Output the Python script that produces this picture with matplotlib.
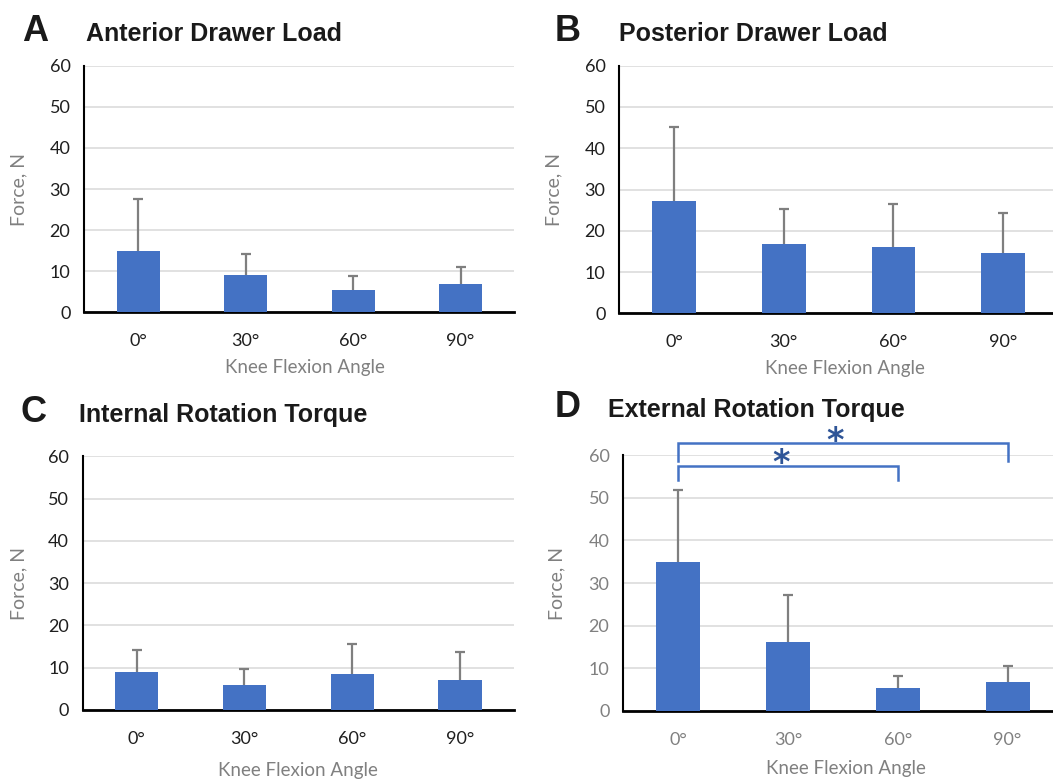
import matplotlib
matplotlib.use("Agg")
import matplotlib.pyplot as plt
import numpy as np

W, H = 1053, 779

categories = ["0°", "30°", "60°", "90°"]

anterior_mean = [14.9, 9.0, 5.5, 6.9]
anterior_err = [12.7, 5.3, 3.4, 4.2]

posterior_mean = [27.1, 16.7, 16.1, 14.5]
posterior_err = [18.1, 8.6, 10.5, 9.9]

internal_mean = [9.0, 5.8, 8.4, 7.0]
internal_err = [5.2, 4.0, 7.2, 6.7]

external_mean = [34.9, 16.1, 5.3, 6.7]
external_err = [17.0, 11.0, 2.8, 3.8]

titles = ["Anterior Drawer Load", "Posterior Drawer Load",
          "Internal Rotation Torque", "External Rotation Torque"]
letters = ["A", "B", "C", "D"]

BAR = "#4472C4"
ERR = "#7F7F7F"
GRID = "#D9D9D9"
LABEL_GRAY = "#808080"

tick_font = "Lato"
title_font = "Liberation Sans"


def fx(px):
    return px / W


def fy(py):
    return 1 - py / H


fig = plt.figure(figsize=(W / 100, H / 100), dpi=100)

# axes positions in pixel coordinates: left, right, top(60), bottom(0)
axes_px = [
    (84.3, 514.3, 65.7, 312.3),
    (619.3, 1058.0, 65.7, 313.3),
    (82.7, 513.9, 456.3, 710.0),
    (623.3, 1062.5, 455.3, 710.7),
]
letter_px = [(21.7, 40.7), (555, 40.7), (20, 421.7), (555, 416.7)]
title_px = [(86, 40.7), (619.3, 40.7), (79.3, 421.7), (608.3, 416.7)]
xlabel_px = [(305.3, 373.3), (845.3, 374.0), (298, 776), (845.8, 774)]
ylabel_px = [(19, 190), (554, 190), (18.5, 583.3), (556.7, 583.3)]

means = [anterior_mean, posterior_mean, internal_mean, external_mean]
errs = [anterior_err, posterior_err, internal_err, external_err]
tick_colors = ["#1f1f1f", "#1f1f1f", "#1f1f1f", LABEL_GRAY]

axes = []
for i in range(4):
    l, r, t, b = axes_px[i]
    ax = fig.add_axes([fx(l), fy(b), fx(r) - fx(l), fy(t) - fy(b)])
    axes.append(ax)
    x = np.arange(len(categories))
    ax.bar(x, means[i], width=0.4, color=BAR, zorder=3)
    eb = ax.errorbar(x, means[i], yerr=[np.zeros(len(x)), errs[i]], fmt="none",
                     ecolor=ERR, elinewidth=1.6, capsize=3.5, capthick=1.6,
                     zorder=2)
    # hide the lower caps (only upper error shown)
    eb[1][0].set_visible(False)
    ax.set_xlim(-0.5, 3.5)
    ax.set_ylim(0, 60)
    ax.set_yticks(np.arange(0, 61, 10))
    ax.set_xticks(x)
    ax.set_xticklabels(categories)
    ax.yaxis.grid(True, color=GRID, linewidth=1.1, zorder=0)
    ax.set_axisbelow(True)
    for s in ["top", "right"]:
        ax.spines[s].set_visible(False)
    ax.spines["left"].set_linewidth(1.5)
    ax.spines["bottom"].set_linewidth(2.0)
    ax.spines["left"].set_color("black")
    ax.spines["bottom"].set_color("black")
    ax.tick_params(length=0, labelsize=13, labelcolor=tick_colors[i])
    ax.tick_params(axis="y", pad=10)
    ax.tick_params(axis="x", pad=15)
    for lab in ax.get_xticklabels() + ax.get_yticklabels():
        lab.set_fontfamily(tick_font)

    ax.set_xlabel("Knee Flexion Angle", fontsize=13.5, color=LABEL_GRAY,
                  fontfamily=tick_font)
    ax.xaxis.label.set_va("baseline")
    ax.xaxis.set_label_coords(fx(xlabel_px[i][0]), fy(xlabel_px[i][1]),
                              transform=fig.transFigure)
    ax.set_ylabel("Force, N", fontsize=14, color=LABEL_GRAY,
                  fontfamily=tick_font)
    ax.yaxis.label.set_va("center")
    ax.yaxis.set_label_coords(fx(ylabel_px[i][0]), fy(ylabel_px[i][1]),
                              transform=fig.transFigure)

    fig.text(fx(letter_px[i][0]), fy(letter_px[i][1]), letters[i],
             fontsize=26, fontweight="bold", fontfamily=title_font,
             va="baseline", ha="left", color="#1a1a1a")
    fig.text(fx(title_px[i][0]), fy(title_px[i][1]), titles[i],
             fontsize=18, fontweight="bold", fontfamily=title_font,
             va="baseline", ha="left", color="#1a1a1a")

# significance brackets on panel D
axd = axes[3]
BR = "#4472C4"
STAR = "#2F5597"
brackets = [(0, 3, 62.8, 58.7, 1.43, 63.2),
            (0, 2, 57.5, 54.3, 0.94, 58.0)]
for x0, x1, ytop, ybot, xs, ys in brackets:
    axd.plot([x0, x0, x1, x1], [ybot, ytop, ytop, ybot], color=BR,
             linewidth=1.8, clip_on=False, zorder=5, solid_joinstyle="miter")
    axd.text(xs, ys, "*", color=STAR, fontsize=24, fontweight="bold",
             ha="center", va="center", fontfamily="DejaVu Sans", clip_on=False)

fig.savefig("out.png", dpi=100)
